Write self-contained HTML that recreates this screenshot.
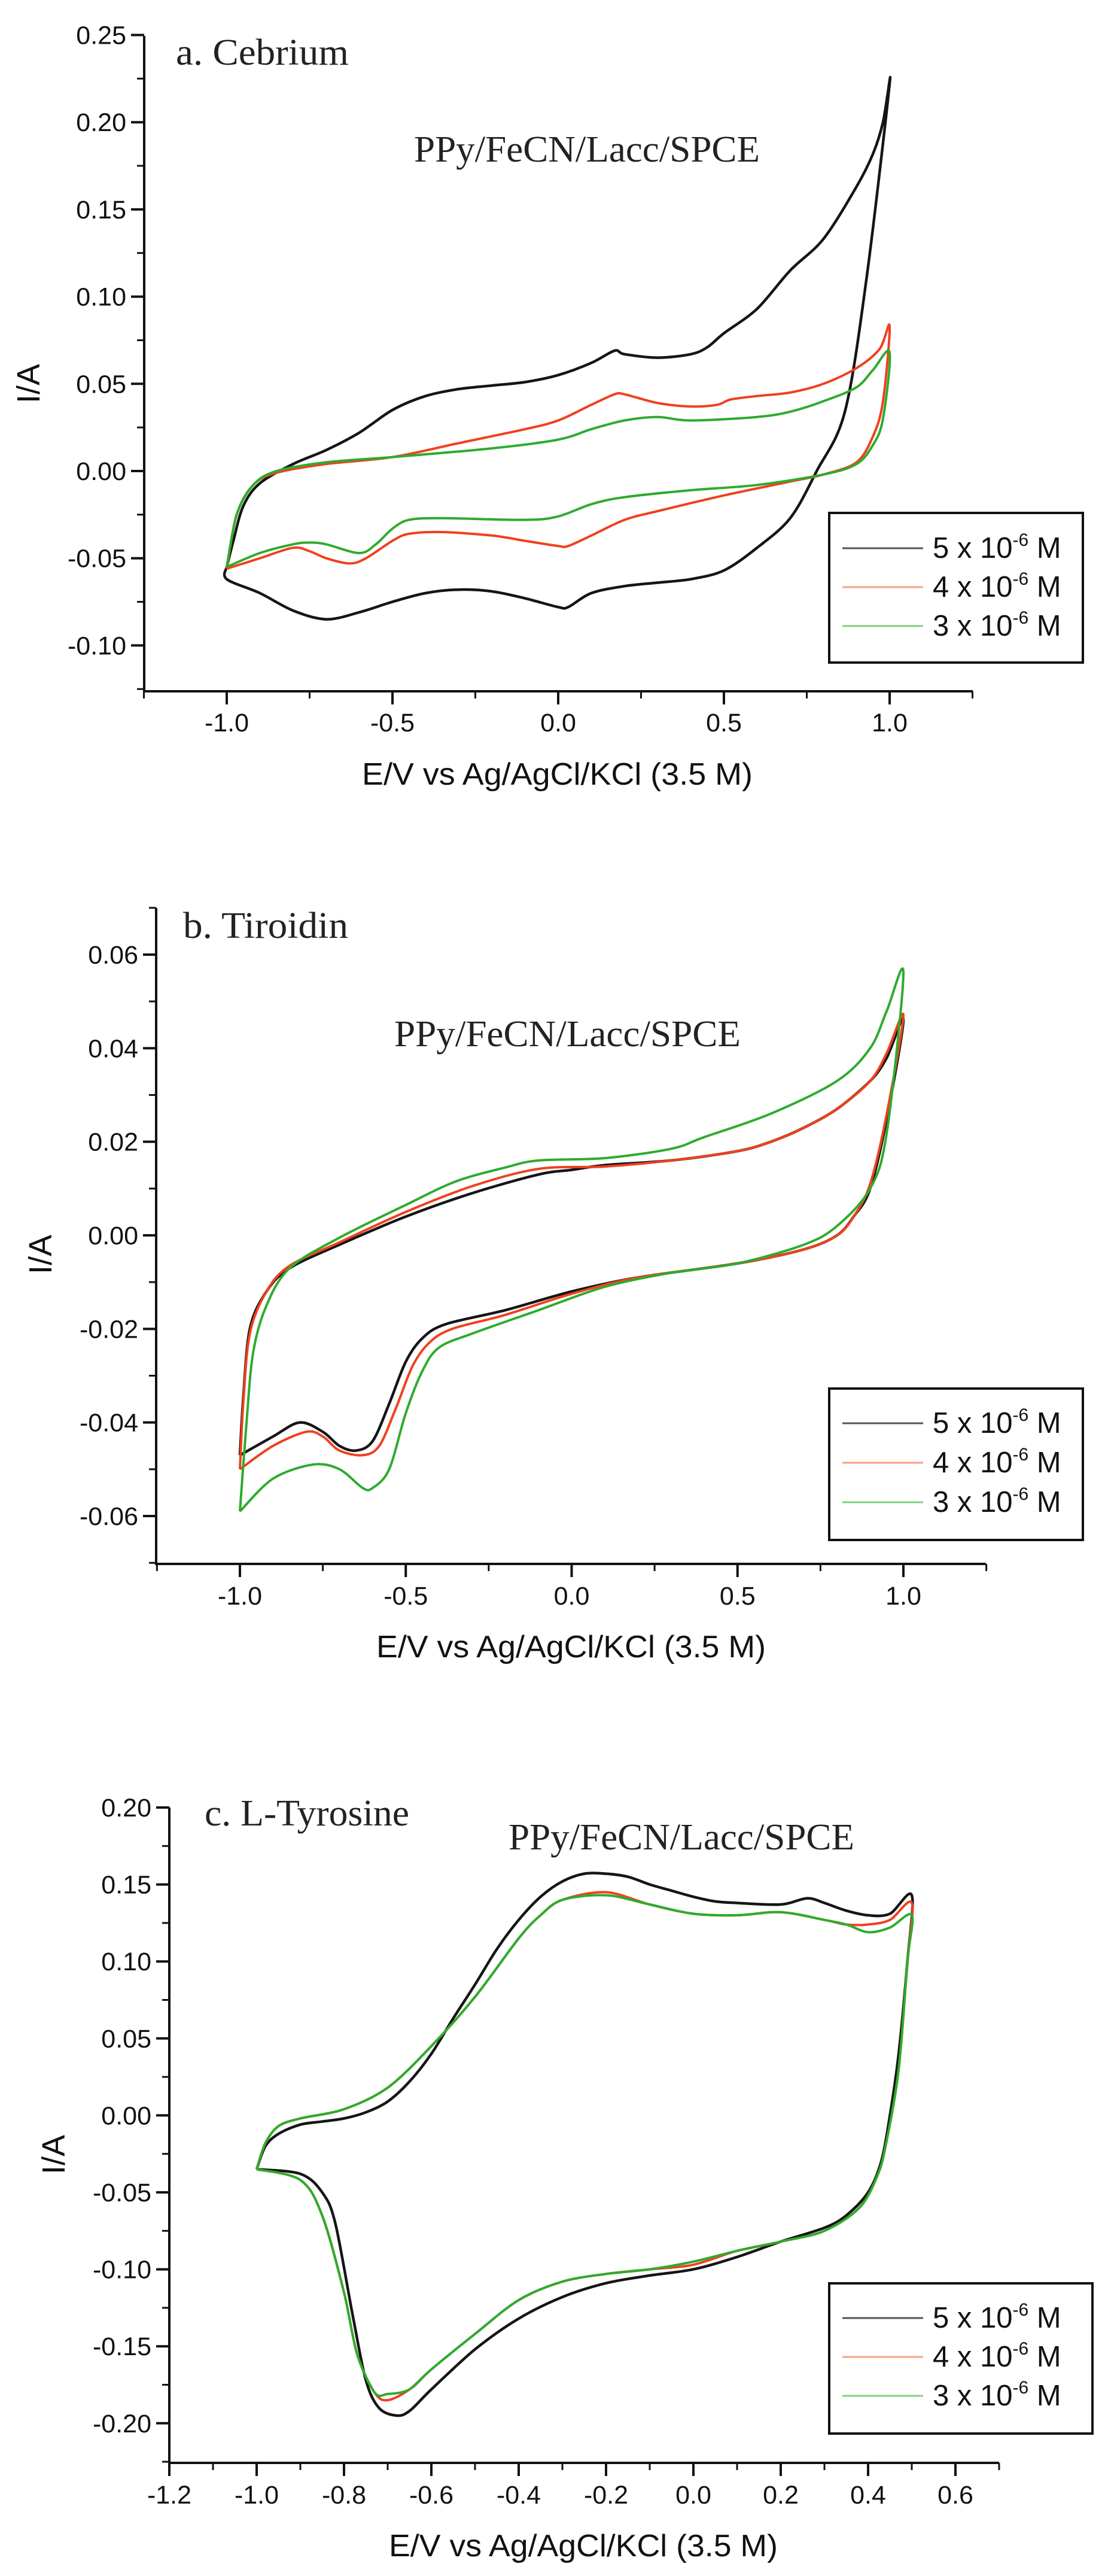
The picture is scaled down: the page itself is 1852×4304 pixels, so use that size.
<!DOCTYPE html>
<html><head><meta charset="utf-8"><style>
html,body{margin:0;padding:0;background:#fff}
svg{display:block}
.t{font-family:"Liberation Sans",Arial,sans-serif;fill:#111}
.s{font-family:"Liberation Serif","Times New Roman",serif;fill:#222}
</style></head><body>
<svg id="s" width="1852" height="4304" viewBox="0 0 1852 4304" xmlns="http://www.w3.org/2000/svg">
<rect width="1852" height="4304" fill="#fff"/>
<g id="g"></g>
<text class="s" x="294" y="108" font-size="62" textLength="289" lengthAdjust="spacingAndGlyphs">a. Cebrium</text>
<text class="s" x="692" y="270" font-size="62" textLength="578" lengthAdjust="spacingAndGlyphs">PPy/FeCN/Lacc/SPCE</text>
<text class="t" x="605" y="1311" font-size="52" textLength="653" lengthAdjust="spacingAndGlyphs">E/V vs Ag/AgCl/KCl (3.5 M)</text>
<text class="t" font-size="54" transform="translate(66,641) rotate(-90)" text-anchor="middle">I/A</text>

<text class="s" x="306" y="1567" font-size="62" textLength="276" lengthAdjust="spacingAndGlyphs">b. Tiroidin</text>
<text class="s" x="659" y="1748" font-size="62" textLength="579" lengthAdjust="spacingAndGlyphs">PPy/FeCN/Lacc/SPCE</text>
<text class="t" x="629" y="2769" font-size="52" textLength="651" lengthAdjust="spacingAndGlyphs">E/V vs Ag/AgCl/KCl (3.5 M)</text>
<text class="t" font-size="54" transform="translate(86,2096) rotate(-90)" text-anchor="middle">I/A</text>

<text class="s" x="342" y="3050" font-size="62" textLength="342" lengthAdjust="spacingAndGlyphs">c. L-Tyrosine</text>
<text class="s" x="850" y="3090" font-size="62" textLength="578" lengthAdjust="spacingAndGlyphs">PPy/FeCN/Lacc/SPCE</text>
<text class="t" x="650" y="4271" font-size="52" textLength="650" lengthAdjust="spacingAndGlyphs">E/V vs Ag/AgCl/KCl (3.5 M)</text>
<text class="t" font-size="54" transform="translate(108,3600) rotate(-90)" text-anchor="middle">I/A</text>
</svg>
<script>
var NS="http://www.w3.org/2000/svg",G=document.getElementById("g");
function el(n,a,txt){var e=document.createElementNS(NS,n);for(var k in a)e.setAttribute(k,a[k]);if(txt!==undefined)e.textContent=txt;G.appendChild(e);return e;}
function path(pts,X,Y,col,w){
 var p=pts.map(function(q){return [X(q[0]),Y(q[1])]});
 var d="M"+p[0][0].toFixed(1)+","+p[0][1].toFixed(1);
 for(var i=0;i<p.length-1;i++){
  var p0=p[i>0?i-1:i],p1=p[i],p2=p[i+1],p3=p[i+2<p.length?i+2:i+1],t=0.16;
  var c1=[p1[0]+(p2[0]-p0[0])*t,p1[1]+(p2[1]-p0[1])*t],c2=[p2[0]-(p3[0]-p1[0])*t,p2[1]-(p3[1]-p1[1])*t];
  d+="C"+c1[0].toFixed(1)+","+c1[1].toFixed(1)+" "+c2[0].toFixed(1)+","+c2[1].toFixed(1)+" "+p2[0].toFixed(1)+","+p2[1].toFixed(1);
 }
 el("path",{d:d,fill:"none",stroke:col,"stroke-width":w,"stroke-linejoin":"round"});
}
function axes(o){
 el("line",{x1:o.ax,y1:o.top,x2:o.ax,y2:o.bot,stroke:"#111","stroke-width":4});
 el("line",{x1:o.ax-2,y1:o.bot,x2:o.xend,y2:o.bot,stroke:"#111","stroke-width":4});
 o.yt.forEach(function(v){var y=o.Y(v);el("line",{x1:o.ax-22,y1:y,x2:o.ax,y2:y,stroke:"#111","stroke-width":4});
   el("text",{x:o.ax-30,y:y+15,"font-size":43,"text-anchor":"end","class":"t"},o.yf(v));});
 o.ym.forEach(function(v){var y=o.Y(v);el("line",{x1:o.ax-12,y1:y,x2:o.ax,y2:y,stroke:"#111","stroke-width":3});});
 o.xt.forEach(function(v){var x=o.X(v);el("line",{x1:x,y1:o.bot,x2:x,y2:o.bot+22,stroke:"#111","stroke-width":4});
   el("text",{x:x,y:o.xl,"font-size":43,"text-anchor":"middle","class":"t"},o.xf(v));});
 o.xm.forEach(function(v){var x=o.X(v);el("line",{x1:x,y1:o.bot,x2:x,y2:o.bot+12,stroke:"#111","stroke-width":3});});
 var L=o.leg;el("rect",{x:L[0],y:L[1],width:L[2]-L[0],height:L[3]-L[1],fill:"#fff",stroke:"#111","stroke-width":4});
 var cols=["#555","#f8a088","#7fd07f"],nums=["5","4","3"];
 for(var i=0;i<3;i++){var yy=L[4]+i*L[5];
  el("line",{x1:L[0]+22,y1:yy,x2:L[0]+157,y2:yy,stroke:cols[i],"stroke-width":3});
  var t=el("text",{x:L[0]+173,y:yy+16,"font-size":49,"class":"t"});
  t.innerHTML=nums[i]+" x 10<tspan dy='-20' font-size='30'>-6</tspan><tspan dy='20'> M</tspan>";}
}
function f2(v){return (Math.abs(v)<1e-9?0:v).toFixed(2);}
function f1(v){return (Math.abs(v)<1e-9?0:v).toFixed(1);}
var BK="#151515",RD="#f0401e",GR="#2eab2e";

(function(){
var X=function(v){return 933+v*554},Y=function(v){return 787-v*2914};
axes({ax:241,top:60,bot:1155,xend:1626,X:X,Y:Y,yt:[0.25,0.2,0.15,0.1,0.05,0,-0.05,-0.1],yf:f2,
 ym:[0.225,0.175,0.125,0.075,0.025,-0.025,-0.075,-0.125],xt:[-1,-0.5,0,0.5,1],xf:f1,xm:[-1.25,-0.75,-0.25,0.25,0.75,1.25],xl:1222,
 leg:[1386,857,1810,1107,916,65]});
path([[-1,-0.055],[-1,-0.062],[-0.9,-0.07],[-0.8,-0.08],[-0.7,-0.085],[-0.6,-0.081],[-0.5,-0.075],[-0.4,-0.07],[-0.3,-0.068],[-0.2,-0.069],[-0.1,-0.073],[0,-0.078],[0.03,-0.078],[0.1,-0.07],[0.2,-0.066],[0.3,-0.064],[0.4,-0.062],[0.5,-0.057],[0.6,-0.044],[0.7,-0.027],[0.78,0.0],[0.865,0.034],[0.93,0.11],[1.0,0.222],[0.98,0.2],[0.95,0.182],[0.9,0.163],[0.8,0.133],[0.7,0.115],[0.6,0.093],[0.5,0.079],[0.45,0.071],[0.4,0.067],[0.3,0.065],[0.2,0.067],[0.17,0.069],[0.1,0.062],[0,0.055],[-0.1,0.051],[-0.2,0.049],[-0.3,0.047],[-0.4,0.043],[-0.5,0.035],[-0.6,0.022],[-0.7,0.012],[-0.8,0.004],[-0.9,-0.007],[-0.95,-0.02],[-0.98,-0.04],[-1,-0.055]],X,Y,BK,4.5);
path([[-1,-0.056],[-0.9,-0.05],[-0.8,-0.044],[-0.75,-0.046],[-0.7,-0.05],[-0.63,-0.053],[-0.58,-0.05],[-0.5,-0.04],[-0.45,-0.036],[-0.35,-0.035],[-0.2,-0.037],[-0.1,-0.04],[0,-0.043],[0.03,-0.043],[0.1,-0.037],[0.2,-0.028],[0.3,-0.023],[0.5,-0.014],[0.7,-0.006],[0.8,-0.002],[0.9,0.005],[0.95,0.02],[0.98,0.04],[1.0,0.083],[0.97,0.07],[0.9,0.059],[0.8,0.05],[0.7,0.045],[0.6,0.043],[0.52,0.041],[0.48,0.038],[0.4,0.037],[0.3,0.039],[0.2,0.044],[0.17,0.044],[0.1,0.038],[0,0.029],[-0.1,0.024],[-0.3,0.016],[-0.5,0.008],[-0.7,0.004],[-0.85,-0.001],[-0.92,-0.008],[-0.97,-0.025],[-1,-0.056]],X,Y,RD,4);
path([[-1,-0.055],[-0.9,-0.047],[-0.8,-0.042],[-0.75,-0.041],[-0.7,-0.042],[-0.6,-0.047],[-0.55,-0.042],[-0.5,-0.033],[-0.45,-0.028],[-0.35,-0.027],[-0.1,-0.028],[0,-0.026],[0.1,-0.019],[0.2,-0.015],[0.4,-0.011],[0.6,-0.008],[0.8,-0.002],[0.9,0.004],[0.95,0.015],[0.98,0.03],[1.0,0.068],[0.95,0.058],[0.9,0.048],[0.8,0.04],[0.7,0.034],[0.6,0.031],[0.4,0.029],[0.3,0.031],[0.2,0.029],[0.1,0.024],[0,0.018],[-0.2,0.013],[-0.5,0.008],[-0.7,0.005],[-0.85,0],[-0.92,-0.008],[-0.97,-0.025],[-1,-0.055]],X,Y,GR,4);
})();

(function(){
var X=function(v){return 955.5+v*554.5},Y=function(v){return 2064-v*7817};
axes({ax:261,top:1517,bot:2613,xend:1648,X:X,Y:Y,yt:[0.06,0.04,0.02,0,-0.02,-0.04,-0.06],yf:f2,
 ym:[0.07,0.05,0.03,0.01,-0.01,-0.03,-0.05,-0.07],xt:[-1,-0.5,0,0.5,1],xf:f1,xm:[-1.25,-0.75,-0.25,0.25,0.75,1.25],xl:2681,
 leg:[1386,2320,1810,2573,2378,66]});
path([[-1,-0.047],[-0.9,-0.043],[-0.82,-0.04],[-0.75,-0.042],[-0.7,-0.045],[-0.65,-0.046],[-0.6,-0.044],[-0.55,-0.036],[-0.5,-0.027],[-0.45,-0.022],[-0.38,-0.019],[-0.2,-0.016],[0,-0.012],[0.2,-0.009],[0.5,-0.006],[0.7,-0.003],[0.8,0.0],[0.85,0.004],[0.9,0.01],[0.95,0.025],[1.0,0.046],[0.95,0.038],[0.9,0.033],[0.8,0.027],[0.7,0.023],[0.6,0.02],[0.5,0.018],[0.3,0.016],[0.1,0.015],[0,0.014],[-0.1,0.013],[-0.3,0.009],[-0.5,0.004],[-0.7,-0.002],[-0.85,-0.007],[-0.92,-0.012],[-0.97,-0.02],[-0.99,-0.035],[-1,-0.047]],X,Y,BK,4.5);
path([[-1,-0.05],[-0.9,-0.045],[-0.8,-0.042],[-0.75,-0.043],[-0.7,-0.046],[-0.63,-0.047],[-0.58,-0.045],[-0.53,-0.037],[-0.48,-0.028],[-0.43,-0.023],[-0.36,-0.02],[-0.2,-0.017],[0,-0.0125],[0.2,-0.009],[0.5,-0.006],[0.7,-0.003],[0.8,0.0],[0.85,0.004],[0.9,0.011],[0.95,0.026],[1.0,0.047],[0.95,0.039],[0.9,0.033],[0.8,0.027],[0.7,0.023],[0.6,0.02],[0.5,0.018],[0.3,0.016],[0.1,0.0147],[-0.1,0.0142],[-0.3,0.0105],[-0.5,0.005],[-0.7,-0.0015],[-0.85,-0.0065],[-0.92,-0.012],[-0.97,-0.021],[-0.99,-0.036],[-1,-0.05]],X,Y,RD,4);
path([[-1,-0.059],[-0.9,-0.052],[-0.78,-0.049],[-0.7,-0.05],[-0.63,-0.054],[-0.6,-0.054],[-0.55,-0.05],[-0.5,-0.038],[-0.45,-0.029],[-0.4,-0.024],[-0.3,-0.021],[-0.1,-0.016],[0.1,-0.011],[0.3,-0.008],[0.5,-0.006],[0.7,-0.002],[0.8,0.002],[0.9,0.01],[0.95,0.022],[1.0,0.056],[0.95,0.048],[0.9,0.04],[0.8,0.033],[0.6,0.026],[0.4,0.021],[0.3,0.0185],[0.1,0.0165],[-0.1,0.016],[-0.2,0.0145],[-0.35,0.0115],[-0.5,0.0065],[-0.7,-0.0005],[-0.85,-0.007],[-0.92,-0.015],[-0.96,-0.025],[-0.98,-0.04],[-1,-0.059]],X,Y,GR,4);
})();

(function(){
var X=function(v){return 283+(v+1.2)*730},Y=function(v){return 3020+(0.2-v)*2572};
axes({ax:283,top:3020,bot:4115,xend:1670,X:X,Y:Y,yt:[0.2,0.15,0.1,0.05,0,-0.05,-0.1,-0.15,-0.2],yf:f2,
 ym:[0.175,0.125,0.075,0.025,-0.025,-0.075,-0.125,-0.175,-0.225],xt:[-1.2,-1,-0.8,-0.6,-0.4,-0.2,0,0.2,0.4,0.6],xf:f1,xm:[-1.1,-0.9,-0.7,-0.5,-0.3,-0.1,0.1,0.3,0.5,0.7],xl:4183,
 leg:[1386,3815,1826,4066,3873,65]});
path([[-1,-0.035],[-0.98,-0.02],[-0.95,-0.012],[-0.9,-0.006],[-0.85,-0.004],[-0.8,-0.002],[-0.75,0.002],[-0.7,0.009],[-0.65,0.022],[-0.6,0.04],[-0.55,0.063],[-0.5,0.085],[-0.45,0.108],[-0.4,0.127],[-0.35,0.142],[-0.3,0.152],[-0.25,0.157],[-0.2,0.157],[-0.15,0.155],[-0.1,0.15],[-0.05,0.146],[0,0.142],[0.05,0.139],[0.1,0.138],[0.2,0.137],[0.26,0.141],[0.3,0.138],[0.35,0.133],[0.4,0.13],[0.45,0.131],[0.5,0.143],[0.49,0.1],[0.47,0.04],[0.45,0.0],[0.43,-0.03],[0.4,-0.05],[0.35,-0.065],[0.3,-0.073],[0.2,-0.082],[0.1,-0.092],[0,-0.1],[-0.1,-0.104],[-0.2,-0.109],[-0.3,-0.118],[-0.4,-0.132],[-0.5,-0.152],[-0.6,-0.178],[-0.65,-0.192],[-0.68,-0.195],[-0.72,-0.19],[-0.75,-0.172],[-0.78,-0.13],[-0.82,-0.07],[-0.85,-0.05],[-0.9,-0.038],[-1,-0.035]],X,Y,BK,4.5);
function cc(top2,t4,t45,t5,b0,b7){return [[-1,-0.035],[-0.98,-0.018],[-0.95,-0.007],[-0.9,-0.002],[-0.8,0.004],[-0.7,0.018],[-0.6,0.045],[-0.5,0.077],[-0.4,0.115],[-0.35,0.13],[-0.3,0.14],[-0.2,top2],[-0.1,0.137],[0,0.131],[0.1,0.13],[0.2,0.132],[0.3,0.127],[0.35,0.124],[0.4,t4],[0.45,t45],[0.5,t5],[0.49,0.1],[0.47,0.03],[0.44,-0.02],[0.42,-0.04],[0.38,-0.06],[0.3,-0.075],[0.2,-0.082],[0.1,-0.088],[0,b0],[-0.1,-0.1],[-0.2,-0.103],[-0.3,-0.108],[-0.4,-0.12],[-0.5,-0.142],[-0.6,-0.165],[-0.65,-0.178],[-0.7,b7],[-0.73,-0.18],[-0.77,-0.155],[-0.8,-0.115],[-0.85,-0.065],[-0.9,-0.042],[-1,-0.035]];}
path(cc(0.145,0.124,0.127,0.138,-0.097,-0.185),X,Y,RD,4);
path(cc(0.143,0.119,0.122,0.130,-0.095,-0.181),X,Y,GR,4);
})();
</script>
</body></html>
